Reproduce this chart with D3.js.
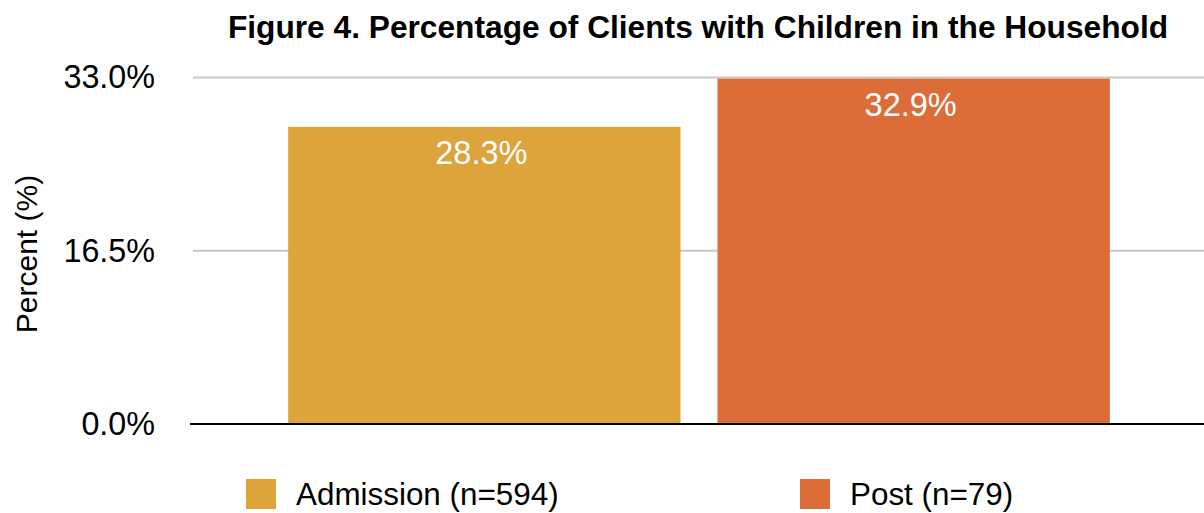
<!DOCTYPE html>
<html>
<head>
<meta charset="utf-8">
<script src="https://cdn.jsdelivr.net/npm/d3@7"></script>
<style>
  body { margin: 0; background: #fff; }
  text { font-family: "Liberation Sans", Arial, Helvetica, sans-serif; }
</style>
</head>
<body>
<svg id="chart" width="1204" height="513"></svg>
<script>
// data
const categories = ['Admission (n=594)', 'Post (n=79)']
const values = [28.3, 32.9]
const barColors = ['#dca43a', '#dc6d38']
const yTicks = [0, 16.5, 33.0]

const svg = d3.select('#chart')

const x = d3.scaleBand()
  .domain(categories)
  .range([192, 1206])
  .paddingInner(0.0862)
  .paddingOuter(0.224)

const y = d3.scaleLinear()
  .domain([0, 33])
  .range([424, 77.5])

// title
svg.append('text')
  .attr('x', 698)
  .attr('y', 38)
  .attr('text-anchor', 'middle')
  .style('font-size', '31.7px')
  .style('font-weight', 'bold')
  .text('Figure 4. Percentage of Clients with Children in the Household')

// gridlines (skip 0, baseline drawn later)
svg.append('g')
  .selectAll('line')
  .data(yTicks.filter(d => d > 0))
  .enter().append('line')
    .attr('x1', 193).attr('x2', 1204)
    .attr('y1', d => y(d)).attr('y2', d => y(d))
    .attr('stroke', '#c8c8c8')
    .attr('stroke-width', 2)

// y axis labels
const yAxis = svg.append('g')
  .attr('transform', 'translate(155,0)')
  .call(d3.axisLeft(y).tickValues(yTicks).tickFormat(d => d.toFixed(1) + '%').tickSize(0).tickPadding(0))
yAxis.select('.domain').remove()
yAxis.selectAll('text')
  .style('font-size', '32.3px')
  .attr('fill', '#000')
  .attr('font-family', null)

// y axis title
svg.append('text')
  .attr('transform', 'translate(37,254) rotate(-90)')
  .attr('text-anchor', 'middle')
  .style('font-size', '30px')
  .text('Percent (%)')

// bars
svg.append('g')
  .selectAll('rect')
  .data(values)
  .enter().append('rect')
    .attr('x', (d, i) => x(categories[i]))
    .attr('y', d => y(d))
    .attr('width', x.bandwidth())
    .attr('height', d => y(0) - y(d))
    .attr('fill', (d, i) => barColors[i])

// value labels inside bars
svg.append('g')
  .selectAll('text')
  .data(values)
  .enter().append('text')
    .attr('x', (d, i) => x(categories[i]) + x.bandwidth() / 2 - 3)
    .attr('y', d => y(d) + 37)
    .attr('text-anchor', 'middle')
    .attr('fill', '#fff')
    .style('font-size', '32.5px')
    .text(d => d.toFixed(1) + '%')

// baseline
svg.append('line')
  .attr('x1', 190).attr('x2', 1204)
  .attr('y1', y(0)).attr('y2', y(0))
  .attr('stroke', '#000')
  .attr('stroke-width', 2)

// legend
const legendX = [246, 800]
const legend = svg.append('g')
  .selectAll('g')
  .data(categories)
  .enter().append('g')
    .attr('transform', (d, i) => `translate(${legendX[i]},479)`)
legend.append('rect')
  .attr('width', 30).attr('height', 30)
  .attr('fill', (d, i) => barColors[i])
legend.append('text')
  .attr('x', 50)
  .attr('y', 26)
  .style('font-size', '31.4px')
  .text(d => d)
</script>
</body>
</html>
